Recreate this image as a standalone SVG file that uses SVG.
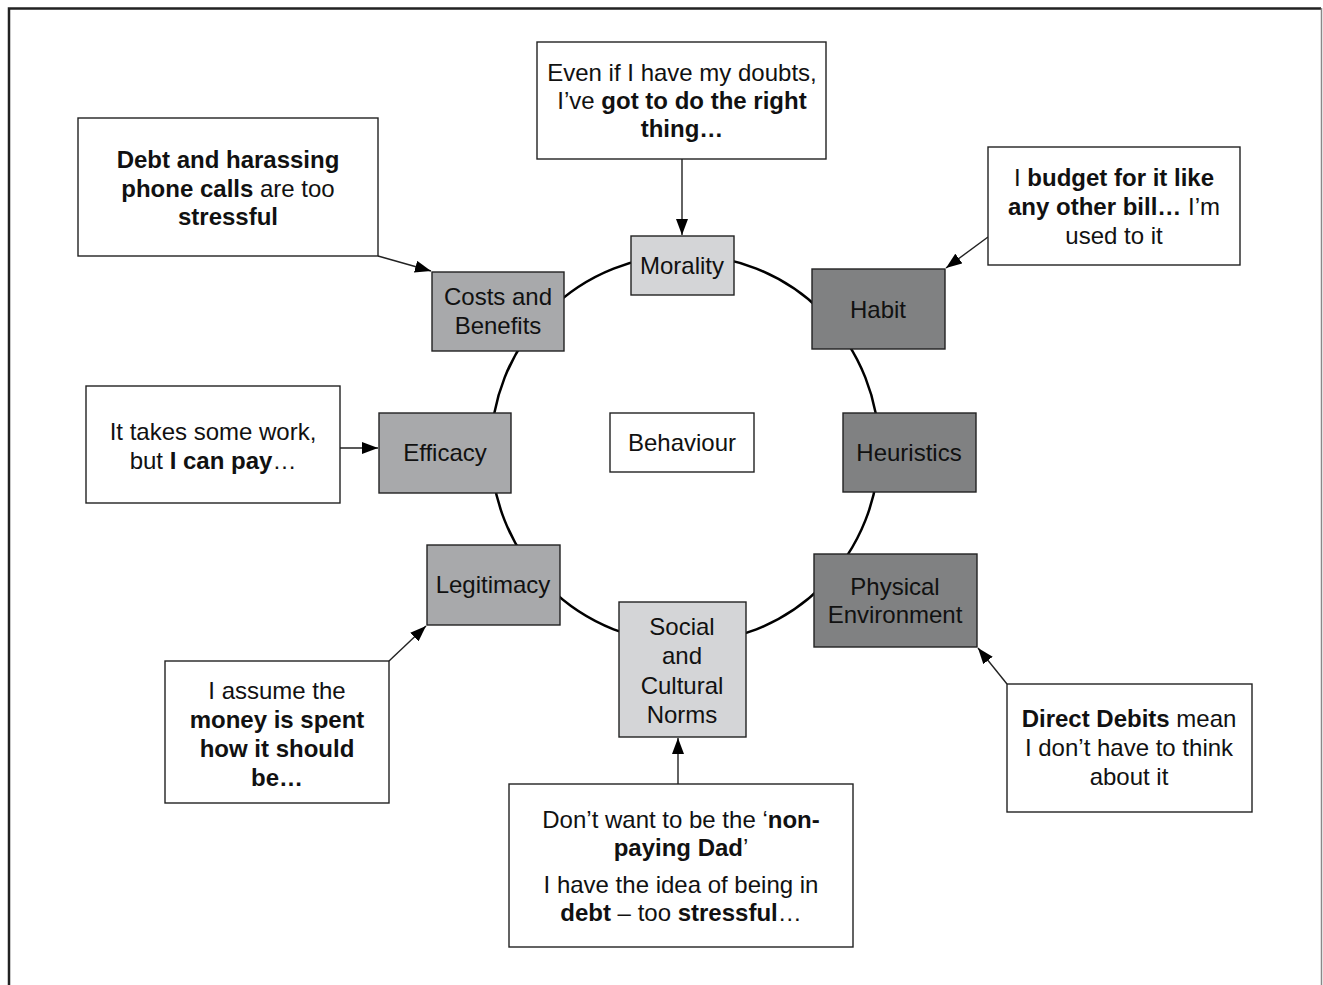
<svg xmlns="http://www.w3.org/2000/svg" width="1323" height="985" viewBox="0 0 1323 985">
<defs>
<style>
text{font-family:"Liberation Sans",Arial,sans-serif;font-size:24px;fill:#111;text-anchor:middle}
.b{font-weight:bold}
.box{stroke:#222;stroke-width:1.4}
.q{fill:#fff}
.w{fill:#fff}
.l{fill:#d4d5d7}
.m{fill:#a8a9ab}
.d{fill:#808182}
.con{stroke:#222;stroke-width:1.4;fill:none;marker-end:url(#ah)}
</style>
<marker id="ah" viewBox="0 0 16 12" refX="16" refY="6" markerWidth="16" markerHeight="12" markerUnits="userSpaceOnUse" orient="auto">
<path d="M0,0 L16,6 L0,12 Z" fill="#000"/>
</marker>
</defs>
<rect width="1323" height="985" fill="#fff"/>
<path d="M9,990 V8.5 H1321" fill="none" stroke="#222" stroke-width="2.5"/>
<path d="M1321.5,8 V990" fill="none" stroke="#888" stroke-width="1.5"/>
<circle cx="685" cy="449" r="194" fill="none" stroke="#000" stroke-width="2.5"/>
<g id="connectors">
<line class="con" x1="378" y1="256" x2="431" y2="271"/>
<line class="con" x1="682" y1="159" x2="682" y2="235"/>
<line class="con" x1="988" y1="237" x2="946" y2="268"/>
<line class="con" x1="340" y1="448" x2="378" y2="448"/>
<line class="con" x1="389" y1="661" x2="426" y2="626"/>
<line class="con" x1="678" y1="784" x2="678" y2="738"/>
<line class="con" x1="1007" y1="684" x2="978" y2="648"/>
</g>
<g id="quote-costs"><rect class="box q" x="78" y="118" width="300" height="138"/>
<text x="228" y="168" class="b">Debt and harassing</text>
<text x="228" y="197"><tspan class="b">phone calls</tspan> are too</text>
<text x="228" y="225" class="b">stressful</text></g>
<g id="quote-morality"><rect class="box q" x="537" y="42" width="289" height="117"/>
<text x="682" y="81">Even if I have my doubts,</text>
<text x="682" y="109">I’ve <tspan class="b">got to do the right</tspan></text>
<text x="682" y="137" class="b">thing…</text></g>
<g id="quote-habit"><rect class="box q" x="988" y="147" width="252" height="118"/>
<text x="1114" y="186">I <tspan class="b">budget for it like</tspan></text>
<text x="1114" y="215"><tspan class="b">any other bill…</tspan> I’m</text>
<text x="1114" y="244">used to it</text></g>
<g id="quote-efficacy"><rect class="box q" x="86" y="386" width="254" height="117"/>
<text x="213" y="440">It takes some work,</text>
<text x="213" y="469">but <tspan class="b">I can pay</tspan>…</text></g>
<g id="quote-legitimacy"><rect class="box q" x="165" y="661" width="224" height="142"/>
<text x="277" y="699">I assume the</text>
<text x="277" y="728" class="b">money is spent</text>
<text x="277" y="757" class="b">how it should</text>
<text x="277" y="786" class="b">be…</text></g>
<g id="quote-social"><rect class="box q" x="509" y="784" width="344" height="163"/>
<text x="681" y="828">Don’t want to be the ‘<tspan class="b">non-</tspan></text>
<text x="681" y="856"><tspan class="b">paying Dad</tspan>’</text>
<text x="681" y="893">I have the idea of being in</text>
<text x="681" y="921"><tspan class="b">debt</tspan> – too <tspan class="b">stressful</tspan>…</text></g>
<g id="quote-physical"><rect class="box q" x="1007" y="684" width="245" height="128"/>
<text x="1129" y="727"><tspan class="b">Direct Debits</tspan> mean</text>
<text x="1129" y="756">I don’t have to think</text>
<text x="1129" y="785">about it</text></g>
<g id="morality"><rect class="box l" x="631" y="236" width="103" height="59"/>
<text x="682" y="274">Morality</text></g>
<g id="costs"><rect class="box m" x="432" y="272" width="132" height="79"/>
<text x="498" y="305">Costs and</text>
<text x="498" y="334">Benefits</text></g>
<g id="habit"><rect class="box d" x="812" y="269" width="133" height="80"/>
<text x="878" y="318">Habit</text></g>
<g id="efficacy"><rect class="box m" x="379" y="413" width="132" height="80"/>
<text x="445" y="461">Efficacy</text></g>
<g id="behaviour"><rect class="box w" x="610" y="413" width="144" height="59"/>
<text x="682" y="451">Behaviour</text></g>
<g id="heuristics"><rect class="box d" x="843" y="413" width="133" height="79"/>
<text x="909" y="461">Heuristics</text></g>
<g id="legitimacy"><rect class="box m" x="427" y="545" width="133" height="80"/>
<text x="493" y="593">Legitimacy</text></g>
<g id="physical"><rect class="box d" x="814" y="554" width="163" height="93"/>
<text x="895" y="595">Physical</text>
<text x="895" y="623">Environment</text></g>
<g id="social"><rect class="box l" x="619" y="602" width="127" height="135"/>
<text x="682" y="635">Social</text>
<text x="682" y="664">and</text>
<text x="682" y="694">Cultural</text>
<text x="682" y="723">Norms</text></g>
</svg>
